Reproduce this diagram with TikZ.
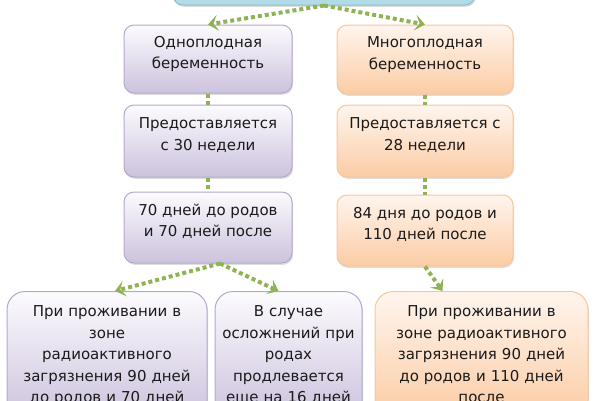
\documentclass[tikz,border=0pt]{standalone}
\usepackage{fontspec}
\setmainfont{DejaVu Sans}
\usetikzlibrary{arrows.meta,shadows,calc}
\definecolor{pborder}{HTML}{B5A8CE}
\definecolor{ptop}{HTML}{FCFBFE}
\definecolor{pbot}{HTML}{CCC2DD}
\definecolor{oborder}{HTML}{F9C699}
\definecolor{otop}{HTML}{FFF5EE}
\definecolor{obot}{HTML}{FBCCA4}
\definecolor{tfill}{HTML}{B3DBE6}
\definecolor{tborder}{HTML}{86BFD0}
\definecolor{agreen}{HTML}{8FB354}
\definecolor{txtc}{HTML}{1A1A1A}
\begin{document}
\begin{tikzpicture}[x=1pt,y=-1pt,
  every node/.style={font=\fontsize{15}{21.5}\selectfont, text=txtc},
  shad/.style={drop shadow={shadow xshift=1pt,shadow yshift=-1.8pt,opacity=0.22,fill=black!60}},
  pbox/.style={shad,draw=pborder,line width=1pt,rounded corners=10pt,top color=ptop,bottom color=pbot,minimum width=168pt,inner sep=0pt},
  obox/.style={shad,draw=oborder,line width=1pt,rounded corners=10pt,top color=otop,bottom color=obot,minimum width=176pt,inner sep=0pt},
  txt/.style={align=center,inner sep=0pt},
  lowbox/.style={shad,line width=1pt,rounded corners=18pt,align=center,anchor=north,inner xsep=5pt,inner ysep=14.5pt},
  conn/.style={draw=agreen,line width=4pt,dash pattern=on 4pt off 3pt},
  arr/.style={conn,-{Stealth[length=10pt,width=16pt,inset=4.5pt]}}
]
\useasboundingbox (0,0) rectangle (600,400);
\clip (0,0) rectangle (600,400);

% top box (mostly outside the picture)
\node[shad,draw=tborder,line width=1pt,fill=tfill,rounded corners=10pt,minimum width=302pt,minimum height=60pt] (top) at (324,-25) {};

% left column
\node[pbox,minimum height=68pt] (l1) at (208,59) {};
\node[txt] (l1t) at ($(l1.center)+(0,-5)$) {Одноплодная\\беременность};
\node[pbox,minimum height=72pt] (l2) at (208,141) {};
\node[txt] (l2t) at ($(l2.center)+(0,-6)$) {Предоставляется\\с 30 недели};
\node[pbox,minimum height=71pt] (l3) at (208,227.5) {};
\node[txt] (l3t) at ($(l3.center)+(0,-6)$) {70 дней до родов\\и 70 дней после};

% right column
\node[obox,minimum height=69pt] (r1) at (425,59.5) {};
\node[txt] (r1t) at ($(r1.center)+(0,-5)$) {Многоплодная\\беременность};
\node[obox,minimum height=72pt] (r2) at (425,141) {};
\node[txt] (r2t) at ($(r2.center)+(0,-6)$) {Предоставляется с\\28 недели};
\node[obox,minimum height=71pt] (r3) at (425,230.5) {};
\node[txt] (r3t) at ($(r3.center)+(0,-6)$) {84 дня до родов и\\110 дней после};

% bottom row
\node[lowbox,draw=pborder,top color=ptop,bottom color=pbot,text width=190pt] (bl) at (107,291)
  {При проживании в\\зоне\\радиоактивного\\загрязнения 90 дней\\до родов и 70 дней};
\node[lowbox,draw=pborder,top color=ptop,bottom color=pbot,text width=137pt] (bm) at (288.5,291)
  {В случае\\осложнений при\\родах\\продлевается\\еще на 16 дней};
\node[lowbox,draw=oborder,top color=otop,bottom color=obot,text width=203pt] (br) at (481.5,291)
  {При проживании в\\зоне радиоактивного\\загрязнения 90 дней\\до родов и 110 дней\\после};

% connectors
\draw[arr] (top.south) -- (l1.north);
\draw[arr] (top.south) -- (r1.north);
\draw[conn] (l1.south) -- (l2.north);
\draw[conn] (l2.south) -- (l3.north);
\draw[conn] (r1.south) -- (r2.north);
\draw[conn] (r2.south) -- (r3.north);
\draw[arr] ($(l3.south)+(12,0)$) -- ($(bl.north)+(8,0)$);
\draw[arr] ($(l3.south)+(12,0)$) -- ($(bm.north)+(-10,0)$);
\draw[arr] (r3.south) -- ($(br.north)+(-39,0)$);
\end{tikzpicture}
\end{document}
